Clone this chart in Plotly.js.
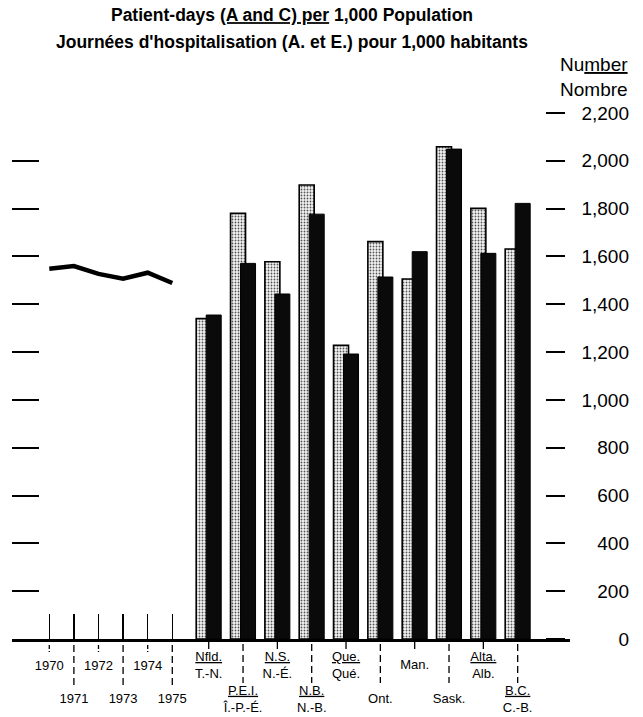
<!DOCTYPE html>
<html>
<head>
<meta charset="utf-8">
<script src="https://cdn.plot.ly/plotly-3.0.1.min.js"></script>
<style>html,body{margin:0;padding:0;background:#fff;}#chart{width:643px;height:717px;}</style>
</head>
<body>
<div id="chart"></div>
<script>
// ---- data ----
const years = [1970, 1971, 1972, 1973, 1974, 1975];
const canadaLine = [1549, 1560, 1527, 1507, 1532, 1489];
const provEn = ['Nfld.', 'P.E.I.', 'N.S.', 'N.B.', 'Que.', 'Ont.', 'Man.', 'Sask.', 'Alta.', 'B.C.'];
const provFr = ['T.-N.', 'Î.-P.-É.', 'N.-É.', 'N.-B.', 'Qué.', 'Ont.', 'Man.', 'Sask.', 'Alb.', 'C.-B.'];
const dottedBars = [1340, 1780, 1578, 1899, 1228, 1662, 1506, 2059, 1801, 1631];
const blackBars = [1355, 1571, 1443, 1777, 1192, 1514, 1620, 2049, 1613, 1822];
const yTickVals = [0, 200, 400, 600, 800, 1000, 1200, 1400, 1600, 1800, 2000, 2200];
const titleEn = 'Patient-days <u>(A and C) per</u> 1,000 Population';
const titleFr = "Journées d'hospitalisation (A. et E.) pour 1,000 habitants";
const unitLabel = 'Nu<u>mber</u><br>Nombre';

// ---- layout geometry ----
const W = 643, H = 717;
const mL = 12, mR = 14, mT = 113, mB = 78;
const plotW = W - mL - mR;
const plotH = H - mT - mB;
const xDom = (570 - mL) / plotW;
const FONT = 'Liberation Sans, Arial, Helvetica, sans-serif';
const px = v => v / plotH;

const yRange = [0, 2200];
const yearRange = [1968.484, 1991.167];
const provRange = [-5.73, 10.524];
const slotW = (570 - mL) / (provRange[1] - provRange[0]);
const barW = 15 / slotW;

const twoLine = provEn.map((e, i) => e !== provFr[i]);
const provIdx = provEn.map((e, i) => i);

const traces = [
  {
    type: 'scatter', mode: 'lines', x: years, y: canadaLine, xaxis: 'x', yaxis: 'y',
    line: {color: '#000', width: 4.5}, name: 'Canada', hoverinfo: 'x+y'
  },
  {
    type: 'bar', x: provEn, y: dottedBars, xaxis: 'x2', yaxis: 'y', name: 'dotted',
    width: barW, offset: -12.5 / slotW,
    marker: {color: '#f2f2f2', line: {color: '#000', width: 1.6},
      pattern: {shape: '.', fgcolor: '#555', bgcolor: '#f4f4f4', size: 3, solidity: 0.3}}
  },
  {
    type: 'bar', x: provEn, y: blackBars, xaxis: 'x2', yaxis: 'y', name: 'black',
    width: barW, offset: -2.5 / slotW,
    marker: {color: '#0a0a0a', line: {color: '#000', width: 1}}
  },
  // invisible carriers so that the right-hand tick and label axes are drawn
  {type: 'scatter', mode: 'lines', x: years, y: canadaLine, xaxis: 'x', yaxis: 'y2', opacity: 0, hoverinfo: 'skip', showlegend: false},
  {type: 'scatter', mode: 'lines', x: years, y: canadaLine, xaxis: 'x', yaxis: 'y3', opacity: 0, hoverinfo: 'skip', showlegend: false}
];

const shapes = [];
years.forEach((yr, i) => {
  if (i % 2 === 0) {
    shapes.push({type: 'line', xref: 'x', yref: 'paper', x0: yr, x1: yr, y0: px(-6), y1: px(-13),
      line: {color: '#000', width: 1.3, dash: '4px,2px'}});
  } else {
    shapes.push({type: 'line', xref: 'x', yref: 'paper', x0: yr, x1: yr, y0: px(-6), y1: px(-46),
      line: {color: '#000', width: 1.3, dash: '7px,4px'}});
  }
});
provIdx.forEach(i => {
  if (i % 2 === 0) {
    shapes.push({type: 'line', xref: 'x3', yref: 'paper', x0: i, x1: i, y0: px(-2), y1: px(-10),
      line: {color: '#000', width: 1.3}});
  } else {
    shapes.push({type: 'line', xref: 'x3', yref: 'paper', x0: i, x1: i, y0: px(-5), y1: px(-44),
      line: {color: '#000', width: 1.3, dash: '7px,4px'}});
  }
});

const tickFont = {family: FONT, size: 13, color: '#000'};

const layout = {
  width: W, height: H,
  margin: {l: mL, r: mR, t: mT, b: mB},
  paper_bgcolor: '#fff', plot_bgcolor: 'rgba(0,0,0,0)',
  showlegend: false, barmode: 'overlay',
  font: {family: FONT, color: '#000'},
  title: {text: '<b>' + titleEn + '</b>', font: {family: FONT, size: 17.5, color: '#000'},
    xref: 'container', yref: 'container', x: 292 / W, y: 1 - 15 / H, xanchor: 'center', yanchor: 'middle'},
  annotations: [
    {text: '<b>' + titleFr + '</b>', xref: 'paper', yref: 'paper', x: (292 - mL) / plotW, y: 1 + px(mT - 42),
      xanchor: 'center', yanchor: 'middle', showarrow: false, font: {family: FONT, size: 17.5, color: '#000'}},
    {text: unitLabel, xref: 'paper', yref: 'paper', x: (630 - mL) / plotW, y: 1 + px(mT - 77),
      xanchor: 'right', yanchor: 'middle', align: 'right', showarrow: false, font: {family: FONT, size: 19, color: '#000'}}
  ],
  xaxis: {
    domain: [0, xDom], range: yearRange, type: 'linear', anchor: 'y',
    tickmode: 'array', tickvals: years, tickangle: 0,
    ticktext: years.map((y, i) => (i % 2 ? '<br><br>' : '') + y),
    ticks: 'inside', ticklen: 25, tickwidth: 1.5, tickcolor: '#000',
    showline: true, linewidth: 3, linecolor: '#000',
    showgrid: false, zeroline: false, tickfont: tickFont, ticklabelstandoff: 12, fixedrange: true
  },
  xaxis2: {
    domain: [0, xDom], range: provRange, type: 'category', categoryorder: 'array', categoryarray: provEn,
    overlaying: 'x', anchor: 'y', tickangle: 0,
    tickmode: 'array', tickvals: provEn.filter((e, i) => twoLine[i]),
    ticktext: provEn.map((e, i) => (i % 2 ? '<br><br>' : '') + '<u>' + e + '</u><br>' + provFr[i]).filter((t, i) => twoLine[i]),
    ticks: '', showline: false, showgrid: false, zeroline: false, tickfont: tickFont, ticklabelstandoff: 8, fixedrange: true
  },
  xaxis3: {
    domain: [0, xDom], range: provRange, type: 'linear', tickangle: 0,
    overlaying: 'x', anchor: 'y',
    tickmode: 'array', tickvals: provIdx.filter(i => !twoLine[i]),
    ticktext: provIdx.filter(i => !twoLine[i]).map(i => (i % 2 ? '<br><br>' : '') + provEn[i]),
    ticks: '', showline: false, showgrid: false, zeroline: false, tickfont: tickFont, ticklabelstandoff: 16, fixedrange: true
  },
  yaxis: {
    domain: [0, 1], range: yRange, anchor: 'x', side: 'left',
    tickmode: 'array', tickvals: yTickVals, showticklabels: false,
    ticks: 'inside', ticklen: 27, tickwidth: 2, tickcolor: '#000',
    showline: false, showgrid: false, zeroline: false, fixedrange: true
  },
  yaxis2: {
    range: yRange, overlaying: 'y', anchor: 'free', position: (545 - mL) / plotW, side: 'right',
    tickmode: 'array', tickvals: yTickVals, showticklabels: false,
    ticks: 'outside', ticklen: 19, tickwidth: 2, tickcolor: '#000',
    showline: false, showgrid: false, zeroline: false, fixedrange: true
  },
  yaxis3: {
    range: yRange, overlaying: 'y', anchor: 'free', position: 1, side: 'left',
    tickmode: 'array', tickvals: yTickVals, tickformat: ',',
    ticks: '', ticklen: 0, showticklabels: true,
    tickfont: {family: FONT, size: 19, color: '#000'},
    showline: false, showgrid: false, zeroline: false, fixedrange: true
  },
  shapes: shapes
};

Plotly.newPlot('chart', traces, layout, {displayModeBar: false, staticPlot: true});
</script>
</body>
</html>
